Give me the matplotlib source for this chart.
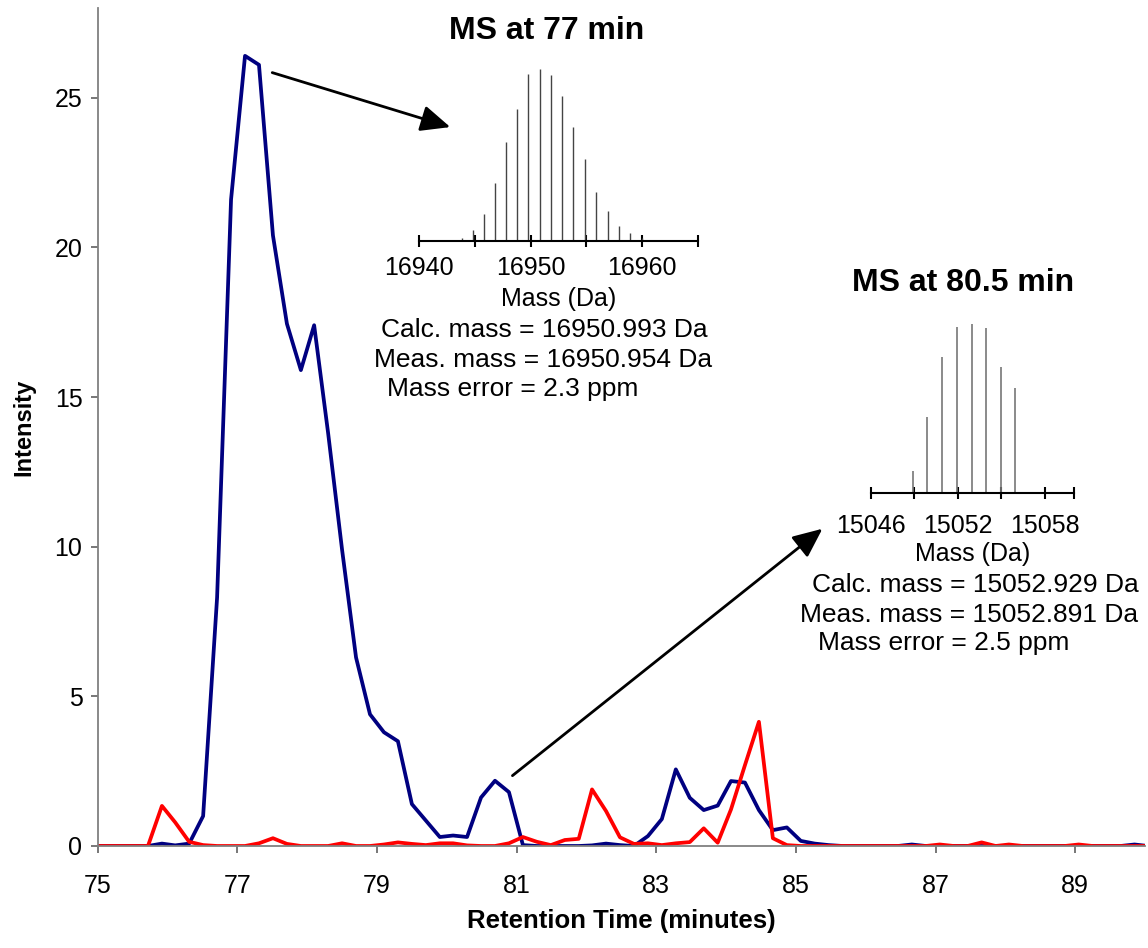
import matplotlib.pyplot as plt

plt.rcParams['font.family'] = ['Liberation Sans', 'DejaVu Sans']

# retention time of each scan (min)
tempo = [74.92, 75.12, 75.32, 75.52, 75.72, 75.92, 76.11, 76.31, 76.51, 76.71,
         76.91, 77.11, 77.31, 77.51, 77.71, 77.91, 78.10, 78.30, 78.50, 78.70,
         78.90, 79.10, 79.30, 79.50, 79.70, 79.90, 80.09, 80.29, 80.49, 80.69,
         80.89, 81.09, 81.29, 81.49, 81.69, 81.89, 82.08, 82.28, 82.48, 82.68,
         82.88, 83.08, 83.28, 83.48, 83.68, 83.88, 84.07, 84.27, 84.47, 84.67,
         84.87, 85.07, 85.27, 85.47, 85.67, 85.87, 86.06, 86.26, 86.46, 86.66,
         86.86, 87.06, 87.26, 87.46, 87.66, 87.86, 88.05, 88.25, 88.45, 88.65,
         88.85, 89.05, 89.25, 89.45, 89.65, 89.85, 90.04]

# blue trace (navy)
azul = [0, 0, 0, 0, 0, 0.08, 0.02, 0.08, 1.0, 8.3,
        21.6, 26.4, 26.1, 20.4, 17.45, 15.9, 17.4, 13.8, 9.9, 6.3,
        4.4, 3.8, 3.5, 1.4, 0.85, 0.3, 0.35, 0.3, 1.62, 2.18,
        1.8, 0.03, 0, 0, 0, 0, 0.02, 0.08, 0.03, 0,
        0.33, 0.9, 2.56, 1.61, 1.2, 1.35, 2.17, 2.12, 1.2, 0.53,
        0.62, 0.17, 0.08, 0.03, 0, 0, 0, 0, 0, 0.05,
        0, 0, 0, 0, 0, 0, 0, 0, 0, 0,
        0, 0, 0, 0, 0, 0.05, 0]

# red trace
vermelho = [0, 0, 0, 0, 0, 1.34, 0.79, 0.14, 0.03, 0,
            0, 0, 0.09, 0.26, 0.07, 0, 0, 0, 0.09, 0,
            0, 0.05, 0.12, 0.07, 0.03, 0.09, 0.09, 0.02, 0, 0,
            0.09, 0.3, 0.14, 0.03, 0.2, 0.24, 1.89, 1.17, 0.29, 0.07,
            0.09, 0.03, 0.09, 0.13, 0.59, 0.11, 1.22, 2.7, 4.15, 0.26,
            0.03, 0, 0, 0, 0, 0, 0, 0, 0, 0,
            0, 0.05, 0, 0, 0.12, 0, 0.05, 0, 0, 0,
            0, 0.05, 0, 0, 0, 0, 0]

# MS at 77 min
massa1 = [16943.8, 16944.8, 16945.8, 16946.8, 16947.8, 16948.8, 16949.8, 16950.8, 16951.8,
          16952.8, 16953.8, 16954.9, 16955.9, 16956.9, 16957.9, 16958.9, 16960.0]
int1 = [0.014, 0.062, 0.157, 0.334, 0.577, 0.767, 0.971, 1.0, 0.963,
        0.841, 0.660, 0.474, 0.283, 0.173, 0.087, 0.043, 0.014]

# MS at 80.5 min
massa2 = [15048.93, 15049.89, 15050.93, 15051.92, 15052.96, 15053.93, 15054.94, 15055.95]
int2 = [0.132, 0.454, 0.809, 0.986, 1.0, 0.976, 0.750, 0.625]

fig = plt.figure(figsize=(11.48, 9.48), dpi=100)
ax = fig.add_axes([0.0851, 0.1076, 0.9123, 0.884])

ax.plot(tempo, azul, color='#000080', lw=2.7)
ax.plot(tempo, vermelho, color='#ff0000', lw=2.7)

ax.set_xlim(75, 90)
ax.set_ylim(0, 28)
ax.set_xticks([75, 77, 79, 81, 83, 85, 87, 89])
ax.set_yticks([0, 5, 10, 15, 20, 25])
for s in ['top', 'right']:
    ax.spines[s].set_visible(False)
for s in ['left', 'bottom']:
    ax.spines[s].set_color('#808080')
    ax.spines[s].set_linewidth(1.3)
ax.tick_params(axis='both', labelsize=18, length=5, width=1.2, color='#606060')
ax.tick_params(axis='x', pad=15)
ax.tick_params(axis='y', pad=6)
ax.set_xlabel('Retention Time (minutes)', fontsize=18.5, fontweight='bold', labelpad=8)
ax.set_ylabel('Intensity', fontsize=17, fontweight='bold', labelpad=14)

# arrows to the spectra
seta = dict(arrowstyle='-|>,head_length=0.9,head_width=0.4', color='black',
            lw=2, mutation_scale=20, shrinkA=0, shrinkB=0)
ax.annotate('', xy=(80.05, 24.02), xytext=(77.50, 25.84), arrowprops=seta)
ax.annotate('', xy=(85.38, 10.60), xytext=(80.94, 2.35), arrowprops=seta)

# inset 1
ax1 = fig.add_axes([0.3653, 0.7461, 0.2425, 0.1811])
ax1.vlines(massa1, 0, int1, color='#444444', lw=1.0)
ax1.set_xlim(16940, 16965)
ax1.set_ylim(0, 1)
ax1.set_xticks([16940, 16945, 16950, 16955, 16960, 16965])
ax1.set_xticklabels(['16940', '', '16950', '', '16960', ''])
ax1.set_yticks([])
ax1.set_xlabel('Mass (Da)', fontsize=18, labelpad=5)
ax1.tick_params(axis='x', pad=7)

# inset 2
ax2 = fig.add_axes([0.7587, 0.4796, 0.1768, 0.1783])
ax2.vlines(massa2, 0, int2, color='#777777', lw=1.2)
ax2.set_xlim(15046, 15060)
ax2.set_ylim(0, 1)
ax2.set_xticks([15046, 15049, 15052, 15055, 15058, 15060])
ax2.set_xticklabels(['15046', '', '15052', '', '15058', ''])
ax2.set_yticks([])
ax2.set_xlabel('Mass (Da)', fontsize=18, labelpad=3)
ax2.tick_params(axis='x', pad=11)

for a in [ax1, ax2]:
    a.patch.set_visible(False)
    for s in ['top', 'right', 'left']:
        a.spines[s].set_visible(False)
    a.spines['bottom'].set_linewidth(1.5)
    a.tick_params(axis='x', direction='inout', length=8, width=1.5, labelsize=18)

fig.text(0.4765, 0.9673, 'MS at 77 min', fontsize=23, fontweight='bold', ha='center', va='center')
fig.text(0.8389, 0.7015, 'MS at 80.5 min', fontsize=23, fontweight='bold', ha='center', va='center')

fig.text(381 / 1148, 1 - 330 / 948, 'Calc. mass = 16950.993 Da', fontsize=19, va='center')
fig.text(374 / 1148, 1 - 360 / 948, 'Meas. mass = 16950.954 Da', fontsize=19, va='center')
fig.text(387 / 1148, 1 - 389 / 948, 'Mass error = 2.3 ppm', fontsize=19, va='center')

fig.text(812 / 1148, 1 - 585 / 948, 'Calc. mass = 15052.929 Da', fontsize=19, va='center')
fig.text(800 / 1148, 1 - 615 / 948, 'Meas. mass = 15052.891 Da', fontsize=19, va='center')
fig.text(818 / 1148, 1 - 643 / 948, 'Mass error = 2.5 ppm', fontsize=19, va='center')

fig.savefig('out.png', dpi=100)
